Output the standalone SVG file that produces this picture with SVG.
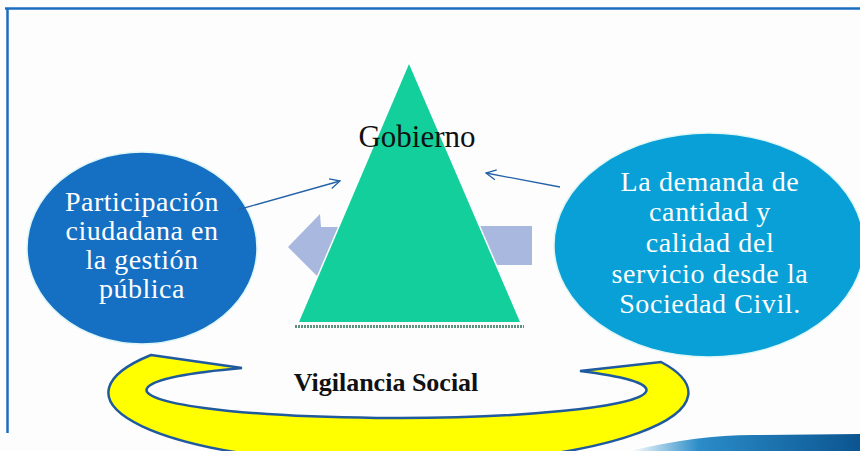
<svg xmlns="http://www.w3.org/2000/svg" width="860" height="451" viewBox="0 0 860 451">
<style>
.ctext{font-family:"Liberation Serif","Times New Roman",serif;font-size:28px;fill:#ffffff;text-anchor:middle;letter-spacing:0.5px}
.conn{fill:none;stroke:#2462a8;stroke-width:1.3}
</style>
<defs>
<marker id="ah" viewBox="0 0 12 12" refX="11" refY="6" markerWidth="12" markerHeight="12" markerUnits="userSpaceOnUse" orient="auto">
<path d="M1,1 L11,6 L1,11" fill="none" stroke="#2462a8" stroke-width="1.3"/>
</marker>
<linearGradient id="swoosh" x1="0" y1="0" x2="1" y2="0">
<stop offset="0" stop-color="#ffffff"/>
<stop offset="0.3" stop-color="#2a8cc8"/>
<stop offset="1" stop-color="#0b5590"/>
</linearGradient>
</defs>
<rect width="860" height="451" fill="#fdfdfd"/>
<g id="frame">
<path d="M5,8.5 H860" stroke="#1a6cc0" stroke-width="2.5"/>
<path d="M7.5,8 V433" stroke="#1a6cc0" stroke-width="2.5"/>
<path d="M630,451 Q700,434 760,435 L860,434 L860,451 Z" fill="url(#swoosh)"/>
</g>
<g id="flow-arrows">
<polygon points="288,247 320,214 321,227 370,227 320,279" fill="#a9b8de"/>
<rect x="470" y="226" width="62" height="39" fill="#a9b8de"/>
</g>
<g id="gobierno">
<polygon points="409,64 299,322 520,322" fill="#13cf9b" stroke="#ffffff" stroke-width="3" stroke-linejoin="miter" paint-order="stroke"/>
<line x1="295" y1="326.5" x2="524" y2="326.5" stroke="#5f8f7f" stroke-width="3" stroke-dasharray="2,1"/>
<text x="417" y="147" font-family="Liberation Serif, Times New Roman, serif" font-size="31" fill="#111111" text-anchor="middle">Gobierno</text>
</g>
<g id="participacion">
<ellipse cx="142" cy="248" rx="115" ry="96" fill="#1570c4" stroke="#dff6f6" stroke-width="1.5"/>
<text class="ctext"><tspan x="142" y="211">Participación</tspan><tspan x="142" y="240">ciudadana en</tspan><tspan x="142" y="269">la gestión</tspan><tspan x="142" y="298">pública</tspan></text>
</g>
<g id="demanda">
<ellipse cx="709" cy="245" rx="155" ry="112" fill="#08a0d6" stroke="#dff6f6" stroke-width="1.5"/>
<text class="ctext" style="letter-spacing:0.6px"><tspan x="710" y="191">La demanda de</tspan><tspan x="710" y="221">cantidad y</tspan><tspan x="710" y="252">calidad del</tspan><tspan x="710" y="283">servicio desde la</tspan><tspan x="710" y="313">Sociedad Civil.</tspan></text>
</g>
<g id="vigilancia">
<path d="M151,355 L242,368 A250,28 0 1,0 580,371 L661,362 A290,72 0 1,1 151,355 Z" fill="#ffff00" stroke="#1f5a9e" stroke-width="2.5" stroke-linejoin="miter"/>
<text x="386" y="391" font-family="Liberation Serif, Times New Roman, serif" font-size="26" font-weight="bold" fill="#111111" text-anchor="middle">Vigilancia Social</text>
</g>
<g id="connectors">
<line class="conn" x1="237" y1="210" x2="340" y2="181" marker-end="url(#ah)"/>
<line class="conn" x1="560" y1="187" x2="486" y2="173" marker-end="url(#ah)"/>
</g>
</svg>
